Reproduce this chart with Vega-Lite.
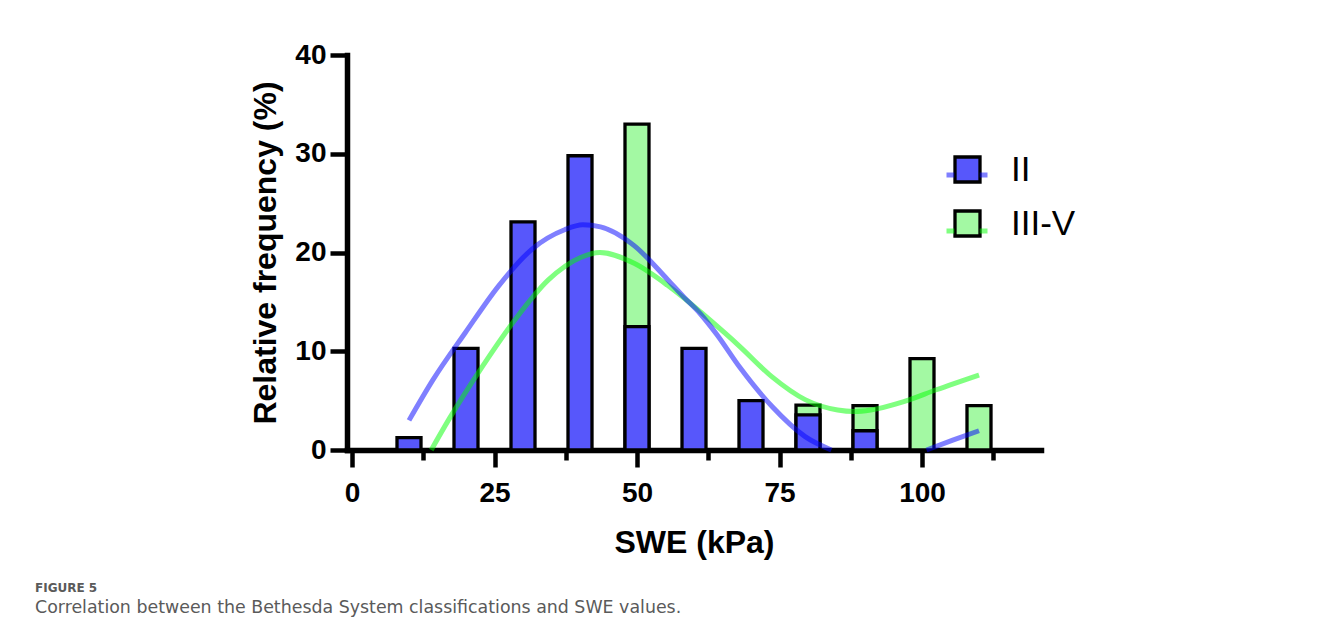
{
  "$schema": "https://vega.github.io/schema/vega-lite/v6.json",
  "width": 694,
  "height": 395,
  "autosize": {"type": "none"},
  "padding": {"left": 347, "top": 55, "right": 287, "bottom": 188},
  "background": "white",
  "config": {
    "view": {"stroke": null},
    "font": "Liberation Sans"
  },
  "title": {
    "text": "FIGURE 5",
    "subtitle": "Correlation between the Bethesda System classifications and SWE values.",
    "orient": "bottom",
    "anchor": "start",
    "frame": "group",
    "dx": -312,
    "offset": 25,
    "font": "DejaVu Sans",
    "fontSize": 12,
    "fontWeight": "bold",
    "color": "#5a5a5a",
    "subtitleFont": "DejaVu Sans",
    "subtitleFontSize": 17.4,
    "subtitleColor": "#5a5a5a",
    "subtitlePadding": 4
  },
  "resolve": {"legend": {"fill": "independent", "stroke": "independent"}},
  "datasets": {
    "bars": [
      {"group": "III-V", "swe": 50, "pct": 33.0},
      {"group": "III-V", "swe": 80, "pct": 4.55},
      {"group": "III-V", "swe": 90, "pct": 4.5},
      {"group": "III-V", "swe": 100, "pct": 9.25},
      {"group": "III-V", "swe": 110, "pct": 4.5},
      {"group": "II", "swe": 10, "pct": 1.25},
      {"group": "II", "swe": 20, "pct": 10.3},
      {"group": "II", "swe": 30, "pct": 23.1},
      {"group": "II", "swe": 40, "pct": 29.8},
      {"group": "II", "swe": 50, "pct": 12.5},
      {"group": "II", "swe": 60, "pct": 10.3},
      {"group": "II", "swe": 70, "pct": 5.0},
      {"group": "II", "swe": 80, "pct": 3.55},
      {"group": "II", "swe": 90, "pct": 1.95}
    ],
    "fit": [
      {"curve": "III-V", "seg": "c", "swe": 13.9, "pct": 0},
      {"curve": "III-V", "seg": "c", "swe": 17.1, "pct": 3.2},
      {"curve": "III-V", "seg": "c", "swe": 22.8, "pct": 8.4},
      {"curve": "III-V", "seg": "c", "swe": 28.6, "pct": 13.2},
      {"curve": "III-V", "seg": "c", "swe": 34.4, "pct": 17.2},
      {"curve": "III-V", "seg": "c", "swe": 40.1, "pct": 19.5},
      {"curve": "III-V", "seg": "c", "swe": 43.5, "pct": 20.0},
      {"curve": "III-V", "seg": "c", "swe": 49.5, "pct": 18.9},
      {"curve": "III-V", "seg": "c", "swe": 55.3, "pct": 16.7},
      {"curve": "III-V", "seg": "c", "swe": 58.2, "pct": 15.4},
      {"curve": "III-V", "seg": "c", "swe": 61.1, "pct": 14.0},
      {"curve": "III-V", "seg": "c", "swe": 65.5, "pct": 11.8},
      {"curve": "III-V", "seg": "c", "swe": 68.0, "pct": 10.5},
      {"curve": "III-V", "seg": "c", "swe": 73.7, "pct": 7.4},
      {"curve": "III-V", "seg": "c", "swe": 79.5, "pct": 5.1},
      {"curve": "III-V", "seg": "c", "swe": 85.2, "pct": 4.05},
      {"curve": "III-V", "seg": "c", "swe": 88.1, "pct": 3.9},
      {"curve": "III-V", "seg": "c", "swe": 91.0, "pct": 4.05},
      {"curve": "III-V", "seg": "c", "swe": 96.8, "pct": 4.9},
      {"curve": "III-V", "seg": "c", "swe": 102.5, "pct": 6.1},
      {"curve": "III-V", "seg": "c", "swe": 110.0, "pct": 7.6},
      {"curve": "II", "seg": "a", "swe": 10.0, "pct": 3.0},
      {"curve": "II", "seg": "a", "swe": 14.2, "pct": 7.1},
      {"curve": "II", "seg": "a", "swe": 19.9, "pct": 11.9},
      {"curve": "II", "seg": "a", "swe": 25.7, "pct": 16.6},
      {"curve": "II", "seg": "a", "swe": 31.5, "pct": 20.3},
      {"curve": "II", "seg": "a", "swe": 37.3, "pct": 22.3},
      {"curve": "II", "seg": "a", "swe": 40.5, "pct": 22.8},
      {"curve": "II", "seg": "a", "swe": 43.6, "pct": 22.6},
      {"curve": "II", "seg": "a", "swe": 49.5, "pct": 20.7},
      {"curve": "II", "seg": "a", "swe": 55.3, "pct": 17.3},
      {"curve": "II", "seg": "a", "swe": 58.2, "pct": 15.5},
      {"curve": "II", "seg": "a", "swe": 61.1, "pct": 13.8},
      {"curve": "II", "seg": "a", "swe": 64.0, "pct": 11.7},
      {"curve": "II", "seg": "a", "swe": 68.0, "pct": 8.4},
      {"curve": "II", "seg": "a", "swe": 73.7, "pct": 4.4},
      {"curve": "II", "seg": "a", "swe": 79.5, "pct": 1.35},
      {"curve": "II", "seg": "a", "swe": 84.1, "pct": 0},
      {"curve": "II", "seg": "b", "swe": 100.8, "pct": 0},
      {"curve": "II", "seg": "b", "swe": 105.4, "pct": 1.0},
      {"curve": "II", "seg": "b", "swe": 110.0, "pct": 1.95}
    ]
  },
  "layer": [
    {
      "data": {"name": "bars"},
      "mark": {"type": "bar", "width": 24, "stroke": "black", "strokeWidth": 3.3},
      "encoding": {
        "x": {
          "field": "swe",
          "type": "quantitative",
          "scale": {"domain": [0, 120], "nice": false, "zero": false},
          "axis": {
            "title": "SWE (kPa)",
            "values": [0, 6.25, 12.5, 18.75, 25, 31.25, 37.5, 43.75, 50, 56.25, 62.5, 68.75, 75, 81.25, 87.5, 93.75, 100, 106.25, 112.5, 118.75],
            "labelExpr": "datum.value % 25 === 0 ? datum.label : ''",
            "tickSize": {"condition": {"test": "datum.value % 25 === 0", "value": 17}, "value": 10},
            "tickWidth": 4.5,
            "tickColor": "black",
            "domainColor": "black",
            "domainWidth": 5.5,
            "domainCap": "square",
            "grid": false,
            "labelFont": "Liberation Sans",
            "labelFontSize": 28,
            "labelFontWeight": "bold",
            "labelColor": "black",
            "labelPadding": 12,
            "labelFlush": false,
            "titleFont": "Liberation Sans",
            "titleFontSize": 32,
            "titleFontWeight": "bold",
            "titleColor": "black",
            "titlePadding": 20
          }
        },
        "y": {
          "field": "pct",
          "type": "quantitative",
          "stack": null,
          "scale": {"domain": [0, 40], "nice": false},
          "axis": {
            "title": "Relative frequency (%)",
            "values": [0, 10, 20, 30, 40],
            "tickSize": 17,
            "tickWidth": 4.5,
            "tickColor": "black",
            "domainColor": "black",
            "domainWidth": 5.5,
            "domainCap": "square",
            "grid": false,
            "labelFont": "Liberation Sans",
            "labelFontSize": 28,
            "labelFontWeight": "bold",
            "labelColor": "black",
            "labelPadding": 4,
            "labelFlush": false,
            "titleFont": "Liberation Sans",
            "titleFontSize": 32,
            "titleFontWeight": "bold",
            "titleColor": "black",
            "titlePadding": 12
          }
        },
        "fill": {
          "field": "group",
          "type": "nominal",
          "scale": {"domain": ["II", "III-V"], "range": ["#5757fb", "#a3f9a3"]},
          "legend": {
            "title": null,
            "orient": "none",
            "legendX": 603,
            "legendY": 97,
            "padding": 0,
            "symbolType": "square",
            "symbolSize": 625,
            "symbolStrokeColor": "black",
            "symbolStrokeWidth": 3.3,
            "symbolOpacity": 1,
            "labelFont": "Liberation Sans",
            "labelFontSize": 35,
            "labelColor": "black",
            "labelOffset": 26,
            "rowPadding": 15,
            "encode": {"symbols": {"update": {"stroke": {"value": "black"}, "strokeWidth": {"value": 3.3}}}}
          }
        }
      }
    },
    {
      "data": {"name": "fit"},
      "mark": {"type": "line", "strokeWidth": 5, "interpolate": "monotone"},
      "encoding": {
        "x": {"field": "swe", "type": "quantitative"},
        "y": {"field": "pct", "type": "quantitative"},
        "detail": {"field": "seg", "type": "nominal"},
        "stroke": {
          "field": "curve",
          "type": "nominal",
          "scale": {"domain": ["II", "III-V"], "range": ["rgba(0,0,255,0.5)", "rgba(0,255,0,0.5)"]},
          "legend": {
            "title": null,
            "orient": "none",
            "legendX": 597,
            "legendY": 97,
            "padding": 0,
            "symbolType": "M-1,0H-0.62M0.62,0H1",
            "symbolSize": 1681,
            "symbolStrokeWidth": 5,
            "labelExpr": "''",
            "labelFont": "Liberation Sans",
            "labelFontSize": 35,
            "labelColor": "rgba(0,0,0,0)",
            "labelOffset": 26,
            "rowPadding": 15
          }
        }
      }
    }
  ]
}
